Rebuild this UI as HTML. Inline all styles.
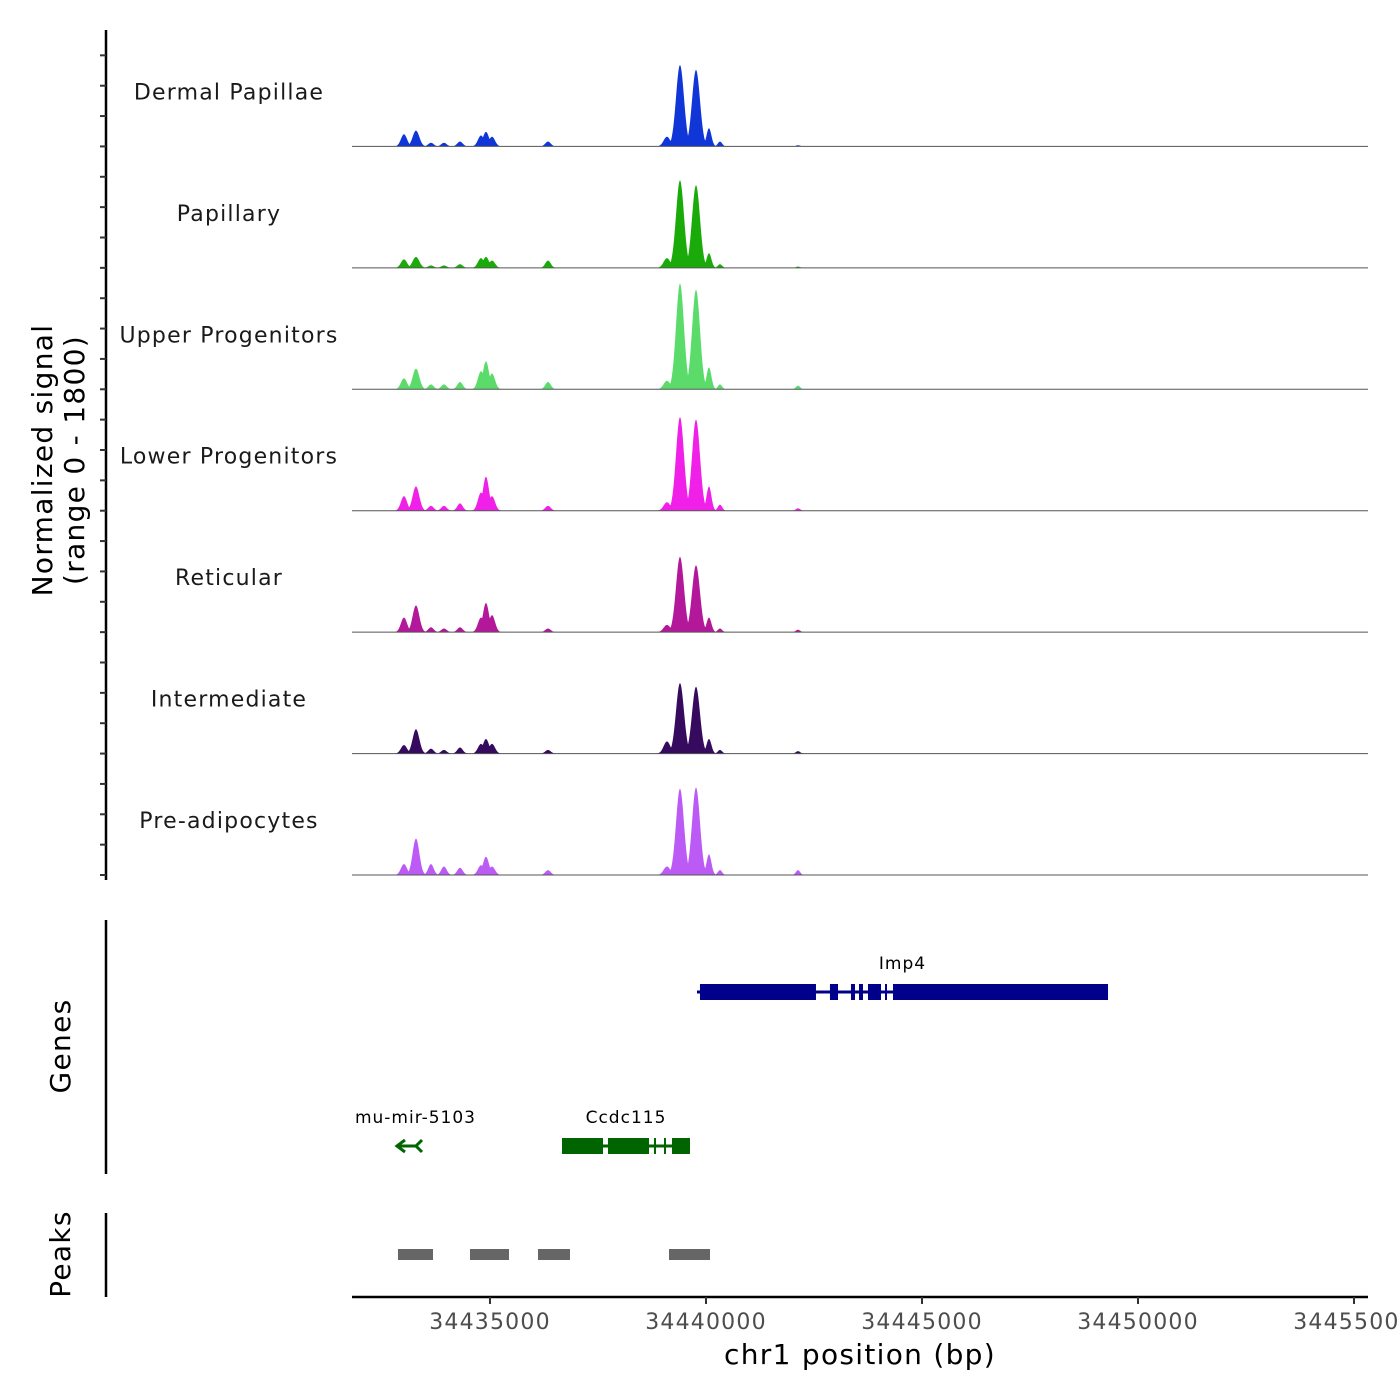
<!DOCTYPE html>
<html><head><meta charset="utf-8"><style>
html,body{margin:0;padding:0;background:#fff}
svg{display:block;font-family:"DejaVu Sans","Liberation Sans",sans-serif}
</style></head><body>
<svg id="chart" width="1400" height="1400" viewBox="0 0 1400 1400"></svg>
<script>
// ---------------- data ----------------
const trackNames = ["Dermal Papillae","Papillary","Upper Progenitors","Lower Progenitors","Reticular","Intermediate","Pre-adipocytes"];
const trackColors = ["#1036d8","#1aab0a","#5bdc6a","#f020e8","#b3179a","#360a5e","#bb5af5"];
const peakCenters = [34433009,34433287,34433634,34433935,34434306,34434792,34434907,34435046,34436343,34439097,34439398,34439769,34440069,34440324,34442130];
const peakWidths  = [100,110,90,90,90,100,100,100,90,110,130,130,80,70,70];
const dermalVals = [0.10,0.13,0.03,0.03,0.04,0.09,0.12,0.08,0.04,0.08,0.67,0.63,0.15,0.04,0.01];
const papillaryVals = [0.07,0.09,0.02,0.02,0.03,0.08,0.09,0.06,0.06,0.08,0.72,0.68,0.12,0.03,0.01];
const upperVals = [0.09,0.17,0.04,0.04,0.06,0.15,0.23,0.13,0.06,0.07,0.87,0.82,0.18,0.04,0.03];
const lowerVals = [0.12,0.20,0.04,0.04,0.06,0.15,0.28,0.12,0.04,0.07,0.77,0.75,0.20,0.05,0.02];
const reticularVals = [0.12,0.22,0.04,0.03,0.04,0.12,0.24,0.14,0.03,0.06,0.62,0.55,0.12,0.03,0.02];
const intermediateVals = [0.07,0.20,0.04,0.03,0.05,0.08,0.12,0.08,0.03,0.10,0.58,0.55,0.12,0.03,0.02];
const preadipoVals = [0.09,0.30,0.09,0.07,0.06,0.08,0.15,0.07,0.04,0.07,0.71,0.72,0.17,0.04,0.04];
const xTicks = [34435000,34440000,34445000,34450000,34455000];
const xTickLabels = ["34435000","34440000","34445000","34450000","34455000"];
const imp4Span = [34439792,34449306];
const imp4ExonStarts = [34439861,34442870,34443356,34443542,34443750,34444144,34444329];
const imp4ExonEnds   = [34442546,34443056,34443449,34443634,34444051,34444190,34449306];
const ccdcSpan = [34436667,34439630];
const ccdcExonStarts = [34436667,34437731,34438796,34439028,34439213];
const ccdcExonEnds   = [34437616,34438681,34438843,34439074,34439630];
const mirSpan = [34432847,34433426];
const peakRegionStarts = [34432870,34434537,34436111,34439144];
const peakRegionEnds   = [34433681,34435440,34436852,34440093];

const seriesVals = [dermalVals,papillaryVals,upperVals,lowerVals,reticularVals,intermediateVals,preadipoVals];

// ---------------- scales ----------------
const X0=352, X1=1368, BP0=34431806, BP1=34455324;
const xs = bp => X0 + (bp-BP0)/(BP1-BP0)*(X1-X0);
const TOP=25, TH=121.43;
const NS="http://www.w3.org/2000/svg";
const svg=document.getElementById("chart");
function mk(tag,attrs,parent){const e=document.createElementNS(NS,tag);for(const k in attrs)e.setAttribute(k,attrs[k]);(parent||svg).appendChild(e);return e;}

// y axis
const yax = mk("line",{x1:106,y1:30,x2:106,y2:880,stroke:"#000","stroke-width":2.5});


for(let k=0;k<28;k++){
  const y=875-k*TH/4;
  const t=mk("line",{x1:100,y1:y,x2:106,y2:y,stroke:"#333","stroke-width":2});
  
  
}
const yt=mk("text",{transform:"translate(52,460) rotate(-90)","text-anchor":"middle","font-size":28,"letter-spacing":1.3,fill:"#000"});


yt.innerHTML='<tspan x="0" dy="0">Normalized signal</tspan><tspan x="0" dy="32">(range 0 - 1800)</tspan>';

// tracks
trackNames.forEach((name,i)=>{
  const base=TOP+(i+1)*TH;
  const vals=seriesVals[i];
  let d=`M${X0},${base}`;
  for(let px=X0;px<=X1;px+=0.5){
    const bp=BP0+(px-X0)/(X1-X0)*(BP1-BP0);
    let v=0;
    for(let j=0;j<peakCenters.length;j++){
      const z=(bp-peakCenters[j])/peakWidths[j];
      v=Math.max(v,vals[j]*Math.exp(-z*z));
    }
    d+=`L${px},${(base-v*TH).toFixed(2)}`;
  }
  d+=`L${X1},${base}Z`;
  const p=mk("path",{d:d,fill:trackColors[i]});
  
  
  const bl=mk("line",{x1:X0,y1:base,x2:X1,y2:base,stroke:"#555","stroke-width":1});
  
  
  const lb=mk("text",{x:229,y:base-47,"text-anchor":"middle","font-size":22,"letter-spacing":1.2,fill:"#1a1a1a"});
  
  
  lb.textContent=name;
});

// genes panel
const gax=mk("line",{x1:106,y1:920,x2:106,y2:1174,stroke:"#000","stroke-width":2.5});


const gt=mk("text",{transform:"translate(70,1046) rotate(-90)","text-anchor":"middle","font-size":28,"letter-spacing":1.3});


gt.textContent="Genes";
function gene(name,span,starts,ends,y,color,lx,ly){
  const l=mk("line",{x1:xs(span[0]),y1:y,x2:xs(span[1]),y2:y,stroke:color,"stroke-width":3});
  
  
  starts.forEach((s,k)=>{
    const r=mk("rect",{x:xs(s),y:y-8,width:Math.max(1.5,xs(ends[k])-xs(s)),height:16,fill:color});
    
    
  });
  const t=mk("text",{x:lx,y:ly,"text-anchor":"middle","font-size":17,"letter-spacing":1,fill:"#000"});
  
  
  t.textContent=name;
}
gene("Imp4",imp4Span,imp4ExonStarts,imp4ExonEnds,992,"#00008b",(xs(imp4Span[0])+xs(imp4Span[1]))/2,969);
gene("Ccdc115",ccdcSpan,ccdcExonStarts,ccdcExonEnds,1146,"#006400",(xs(ccdcSpan[0])+xs(ccdcSpan[1]))/2,1123);
const mx0=xs(mirSpan[0]),mx1=xs(mirSpan[1]);
const mir=mk("path",{d:`M${mx0},1146L${mx1-4},1146M${mx0+8},1140L${mx0},1146L${mx0+8},1152M${mx1},1140L${mx1-6},1146L${mx1},1152`,stroke:"#006400","stroke-width":3,fill:"none"});


const mt=mk("text",{x:(mx0+mx1)/2+6,y:1123,"text-anchor":"middle","font-size":17,"letter-spacing":1});


mt.textContent="mu-mir-5103";

// peaks panel
const pax=mk("line",{x1:106,y1:1213,x2:106,y2:1297,stroke:"#000","stroke-width":2.5});


const pt=mk("text",{transform:"translate(70,1254) rotate(-90)","text-anchor":"middle","font-size":28,"letter-spacing":1.3});


pt.textContent="Peaks";
peakRegionStarts.forEach((s,k)=>{
  const r=mk("rect",{x:xs(s),y:1249,width:xs(peakRegionEnds[k])-xs(s),height:11,fill:"#666"});
  
  
});

// x axis
const xa=mk("line",{x1:X0,y1:1297,x2:X1,y2:1297,stroke:"#000","stroke-width":2.5});


xTicks.forEach((v,k)=>{
  const x=xs(v);
  const t=mk("line",{x1:x,y1:1297,x2:x,y2:1304,stroke:"#333","stroke-width":2});
  
  
  const l=mk("text",{x:x,y:1329,"text-anchor":"middle","font-size":22,"letter-spacing":1.2,fill:"#4d4d4d"});
  
  
  l.textContent=xTickLabels[k];
});
const xt=mk("text",{x:860,y:1364,"text-anchor":"middle","font-size":28,"letter-spacing":1.3});


xt.textContent="chr1 position (bp)";
</script>
</body></html>
